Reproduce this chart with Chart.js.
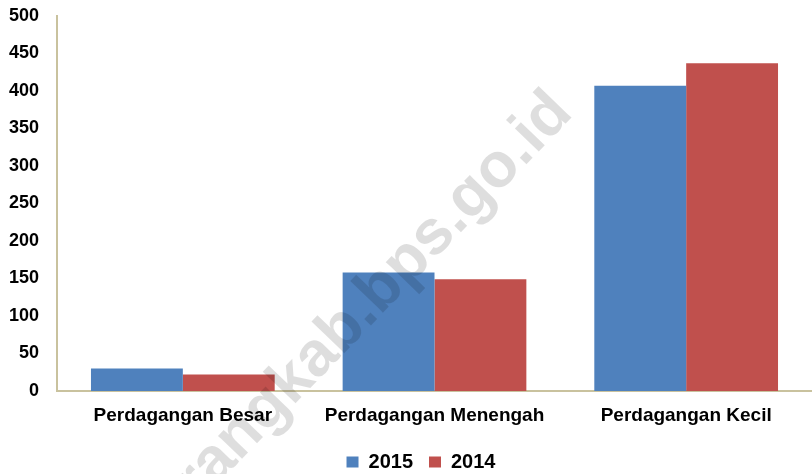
<!DOCTYPE html>
<html>
<head>
<meta charset="utf-8">
<script src="https://cdn.jsdelivr.net/npm/chart.js@4/dist/chart.umd.min.js"></script>
<style>
    body { margin: 0; background: #fff; }
    #wrap { width: 812px; height: 474px; position: relative; }
</style>
</head>
<body>
<div id="wrap"><canvas id="bar-chart"></canvas></div>
<script>
    // Data
    var kategori = ["Perdagangan Besar", "Perdagangan Menengah", "Perdagangan Kecil"];
    var tahun = ["2015", "2014"];
    var nilai2015 = [30, 158, 407];
    var nilai2014 = [22, 149, 437];
    var yTicks = [0, 50, 100, 150, 200, 250, 300, 350, 400, 450, 500];

    var fontName = "'Liberation Sans', Arial, sans-serif";
    var axisColor = "#C9C29E";

    // watermark drawn over the bars
    var watermark = {
        id: "watermark",
        afterDatasetsDraw: function (chart) {
            var ctx = chart.ctx;
            var text = "semarangkab.bps.go.id";
            var ang = -46 * Math.PI / 180;
            ctx.save();
            ctx.font = "bold 63px " + fontName;
            var lead = ctx.measureText("semarangkab.bps").width + ctx.measureText(".").width / 2;
            var bx = 464 - Math.cos(ang) * lead;
            var by = 229 - Math.sin(ang) * lead;
            ctx.translate(bx, by);
            ctx.rotate(ang);
            ctx.fillStyle = "rgba(0, 0, 0, 0.13)";
            ctx.textBaseline = "alphabetic";
            ctx.fillText(text, 0, 0);
            ctx.restore();
        }
    };

    // nudge legend to the right like the original
    var legendShift = {
        id: "legendShift",
        afterLayout: function (chart) {
            chart.legend.left += 15;
            chart.legend.right += 15;
        }
    };

    var ctx = document.getElementById("bar-chart").getContext("2d");
    var myChart = new Chart(ctx, {
        type: "bar",
        data: {
            labels: kategori,
            datasets: [{
                    label: tahun[0],
                    data: nilai2015,
                    backgroundColor: "#4F81BD"
                },
                {
                    label: tahun[1],
                    data: nilai2014,
                    backgroundColor: "#C0504D"
                }
            ]
        },
        options: {
            responsive: true,
            maintainAspectRatio: false,
            animation: false,
            layout: {
                padding: { top: 16, left: 0, right: 0, bottom: 0 }
            },
            datasets: {
                bar: { categoryPercentage: 0.73, barPercentage: 1.0 }
            },
            scales: {
                x: {
                    grid: { display: false, drawTicks: false },
                    border: { display: true, color: axisColor, width: 2 },
                    ticks: {
                        color: "#000",
                        padding: 13,
                        maxRotation: 0,
                        font: { family: fontName, size: 19, weight: "bold" }
                    },
                    afterFit: function (scale) { scale.height = 45; }
                },
                y: {
                    min: 0,
                    max: 500,
                    afterBuildTicks: function (scale) {
                        scale.ticks = yTicks.map(function (v) { return { value: v }; });
                    },
                    grid: { display: false, drawTicks: false },
                    border: { display: true, color: axisColor, width: 2 },
                    ticks: {
                        color: "#000",
                        padding: 18,
                        font: { family: fontName, size: 18, weight: "bold" }
                    },
                    afterFit: function (scale) {
                        scale.width = 57;
                        scale.paddingTop = 0;
                        scale.paddingBottom = 0;
                    }
                }
            },
            plugins: {
                legend: {
                    position: "bottom",
                    maxHeight: 38,
                    labels: {
                        color: "#000",
                        boxWidth: 12,
                        boxHeight: 11,
                        padding: 16,
                        font: { family: fontName, size: 20, weight: "bold" }
                    }
                },
                tooltip: { enabled: false }
            }
        },
        plugins: [watermark, legendShift]
    });
</script>
</body>
</html>
